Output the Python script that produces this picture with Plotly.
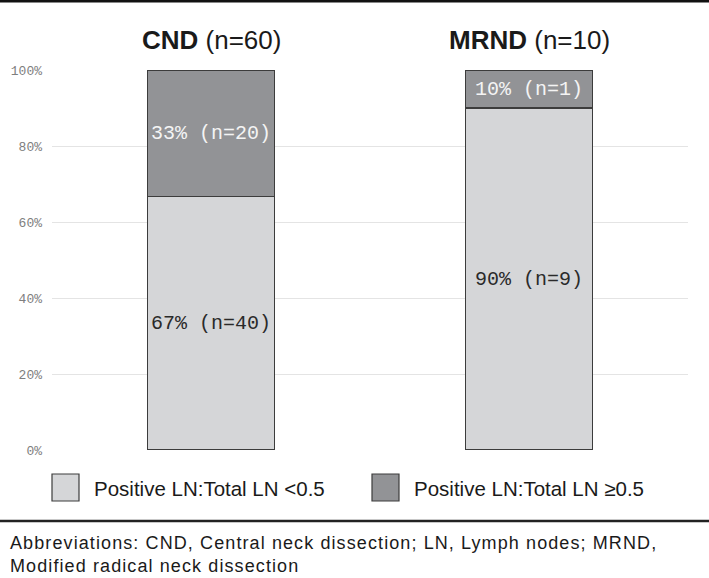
import plotly.graph_objects as go

# ---- data ----
groups = ["CND", "MRND"]
group_n = [60, 10]
low_counts = [40, 9]    # Positive LN:Total LN <0.5
high_counts = [20, 1]   # Positive LN:Total LN >=0.5
low_pct_labels = ["67% (n=40)", "90% (n=9)"]
high_pct_labels = ["33% (n=20)", "10% (n=1)"]
series_names = ["Positive LN:Total LN <0.5", "Positive LN:Total LN \u22650.5"]
tick_vals = [0, 0.2, 0.4, 0.6, 0.8, 1.0]
tick_text = ["0%", "20%", "40%", "60%", "80%", "100%"]
abbrev_lines = ["Abbreviations: CND, Central neck dissection; LN, Lymph nodes; MRND,",
                "Modified radical neck dissection"]

low_frac = [l / n for l, n in zip(low_counts, group_n)]
high_frac = [h / n for h, n in zip(high_counts, group_n)]

LIGHT = "#d5d6d8"
DARK = "#929396"
EDGE = "#3c3c3c"

W, H = 709, 578
L, R, T, B = 52, 21, 70, 128
PW, PH = W - L - R, H - T - B

def px_x(x):
    return (x - L) / PW

def px_y(y):
    return (H - B - y) / PH

fig = go.Figure()
xpos = [0, 1]
fig.add_trace(go.Bar(
    x=xpos, y=low_frac, width=0.4, name=series_names[0],
    marker=dict(color=LIGHT, line=dict(color=EDGE, width=1.5)),
    text=low_pct_labels, textposition="inside", insidetextanchor="middle",
    textangle=0, constraintext="none",
    textfont=dict(family="Liberation Mono", size=20, color="#2a2a2a"),
    showlegend=False, hoverinfo="skip"))
fig.add_trace(go.Bar(
    x=xpos, y=high_frac, width=0.4, name=series_names[1],
    marker=dict(color=DARK, line=dict(color=EDGE, width=1.5)),
    text=high_pct_labels, textposition="inside", insidetextanchor="middle",
    textangle=0, constraintext="none",
    textfont=dict(family="Liberation Mono", size=20, color="#f4f4f4"),
    showlegend=False, hoverinfo="skip"))

annotations = []
for xp, g, n in zip(xpos, groups, group_n):
    annotations.append(dict(
        x=xp, xref="x", y=px_y(40), yref="paper", yanchor="middle",
        text=f"<b>{g}</b> (n={n})", showarrow=False,
        font=dict(family="Liberation Sans", size=26, color="#1a1a1a")))

shapes = []
# legend boxes
legend_box_x = [52, 372]
legend_text_x = [92, 412]
for bx, tx, col, name in zip(legend_box_x, legend_text_x, [LIGHT, DARK], series_names):
    shapes.append(dict(type="rect", xref="paper", yref="paper",
                       x0=px_x(bx), x1=px_x(bx + 27), y0=px_y(501), y1=px_y(474),
                       fillcolor=col, line=dict(color=EDGE, width=1.2)))
    annotations.append(dict(x=px_x(tx), xref="paper", xanchor="left",
                            y=px_y(488), yref="paper", yanchor="middle",
                            text=name, showarrow=False,
                            font=dict(family="Liberation Sans", size=20.5, color="#1a1a1a")))

# horizontal rules
shapes.append(dict(type="line", xref="paper", yref="paper",
                   x0=px_x(0), x1=px_x(W), y0=px_y(1), y1=px_y(1),
                   line=dict(color="#111111", width=3)))
shapes.append(dict(type="line", xref="paper", yref="paper",
                   x0=px_x(0), x1=px_x(W), y0=px_y(521), y1=px_y(521),
                   line=dict(color="#222222", width=2.5)))

abbrev_text = "<br>".join(
    f'<span style="letter-spacing:1.1px">{t}</span>' for t in abbrev_lines)
annotations.append(dict(x=px_x(8), xref="paper", xanchor="left",
                        y=px_y(578), yref="paper", yanchor="bottom", align="left",
                        text=abbrev_text, showarrow=False,
                        font=dict(family="Liberation Sans", size=18, color="#1a1a1a")))

fig.update_layout(
    width=W, height=H, barmode="stack",
    margin=dict(l=L, r=R, t=T, b=B, pad=0),
    paper_bgcolor="white", plot_bgcolor="white",
    xaxis=dict(range=[-0.5, 1.5], showticklabels=False, showgrid=False,
               zeroline=False, showline=False, ticks=""),
    yaxis=dict(range=[0, 1], tickvals=tick_vals, ticktext=tick_text,
               showgrid=True, gridcolor="#e4e4e4", gridwidth=1,
               zeroline=False, showline=False, ticks="", ticklabelstandoff=9,
               tickfont=dict(family="Liberation Mono", size=13, color="#7e7e7e")),
    annotations=annotations, shapes=shapes,
)

fig.write_html("out.html", config={"displayModeBar": False},
               post_script="document.body.style.margin='0';document.body.style.overflow='hidden';")
